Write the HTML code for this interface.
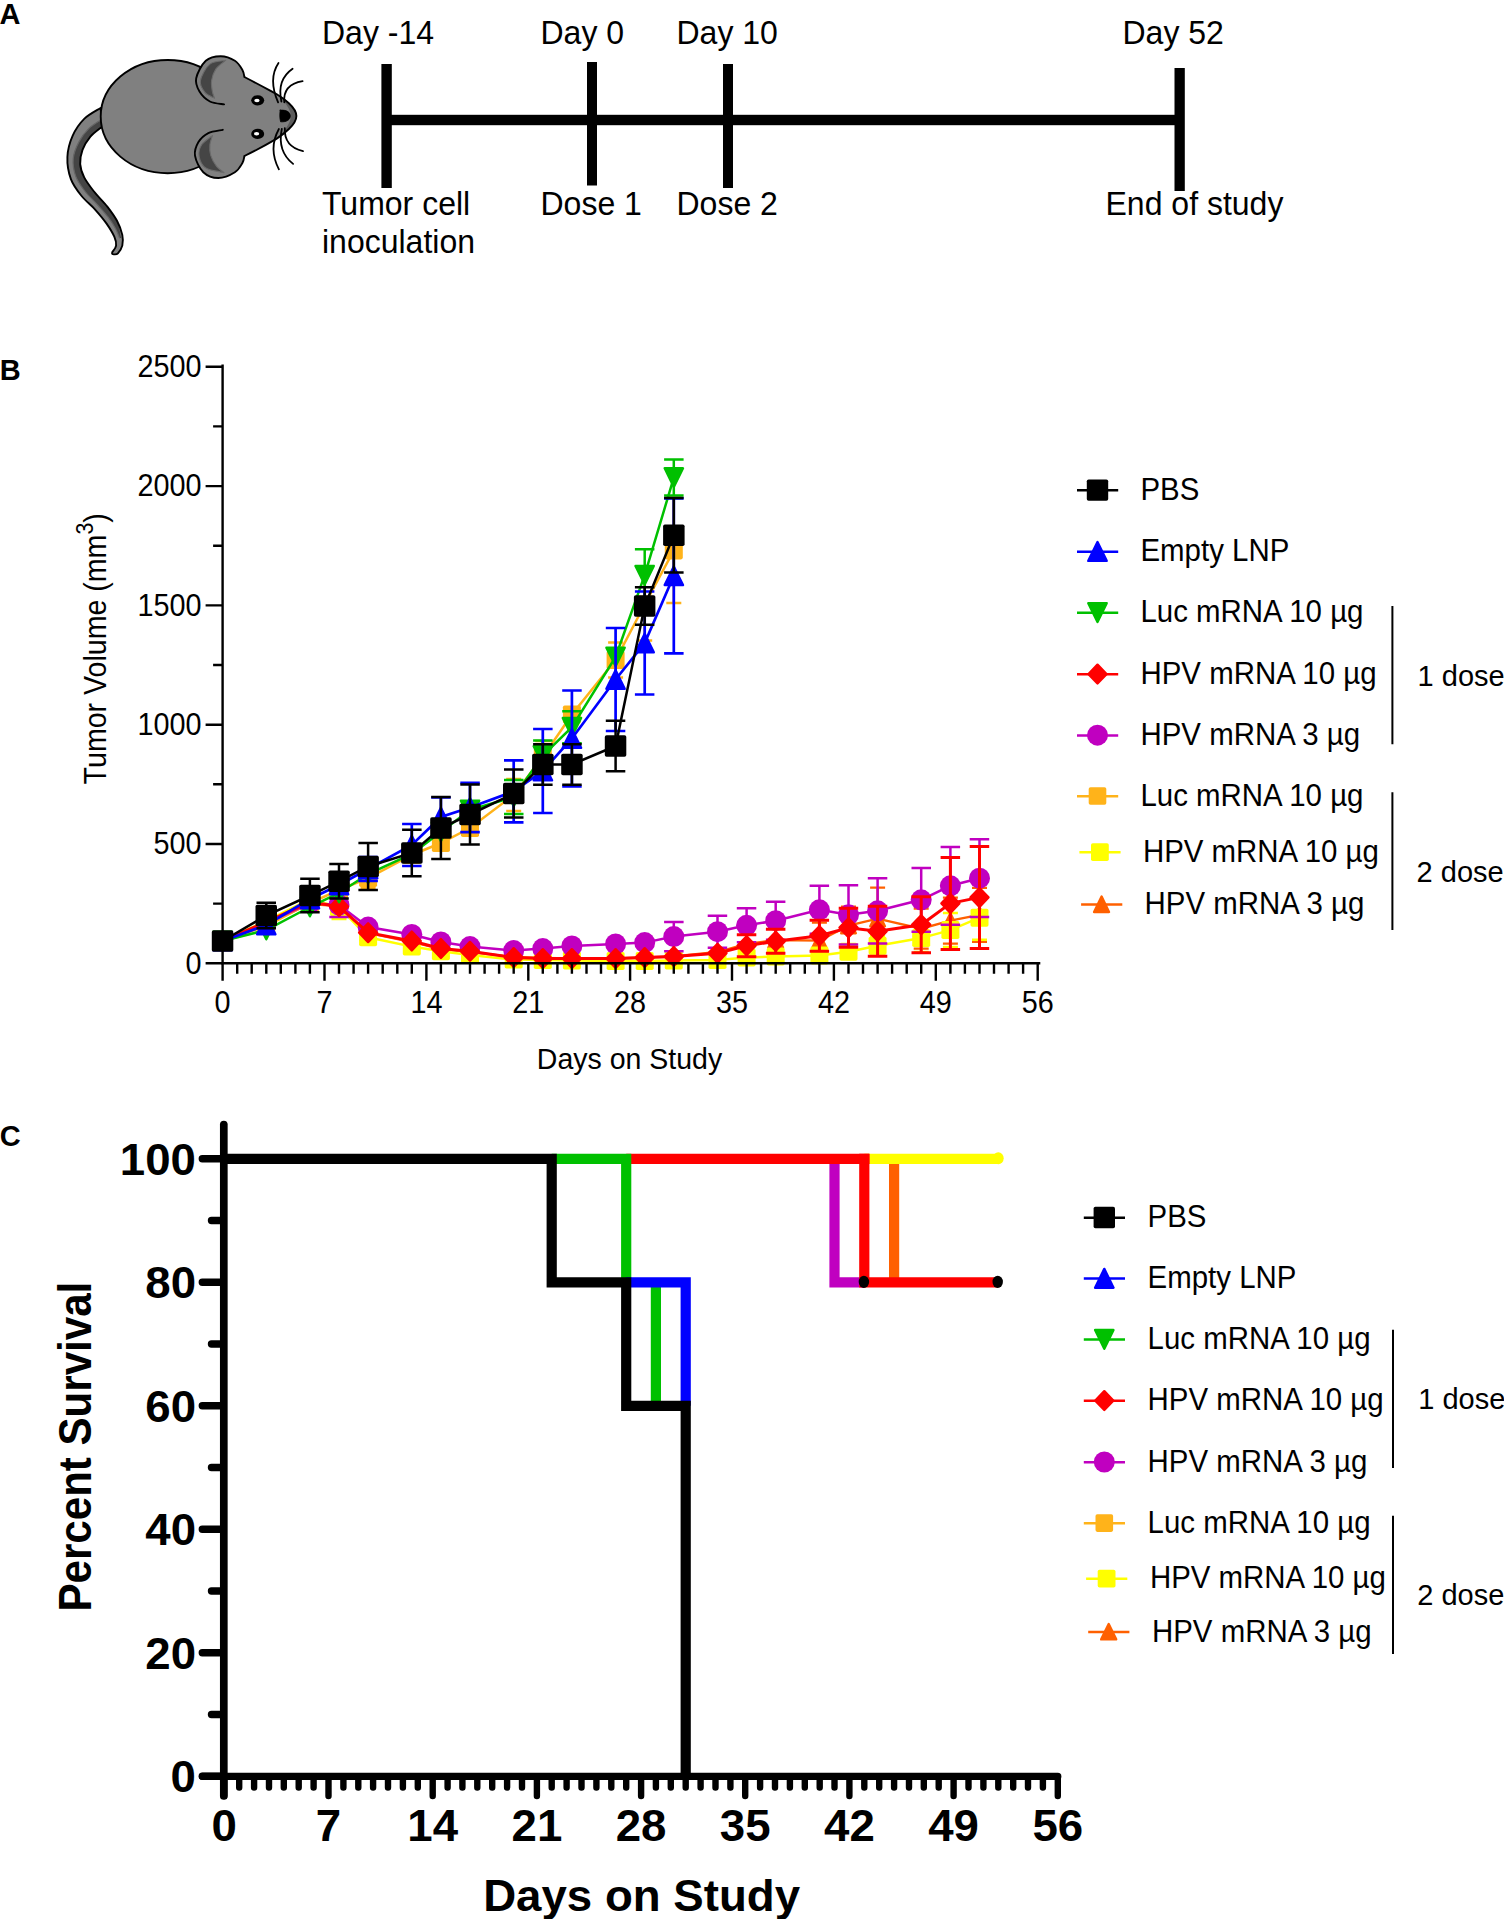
<!DOCTYPE html>
<html><head><meta charset="utf-8"><title>Figure</title>
<style>
html,body{margin:0;padding:0;background:#fff;}
body{width:1504px;height:1919px;overflow:hidden;}
svg{display:block;font-family:'Liberation Sans', Arial, Helvetica, sans-serif;fill:#000;}
</style></head><body>
<svg width="1504" height="1919" viewBox="0 0 1504 1919">
<rect width="1504" height="1919" fill="#fff"/>
<g id="panelA">
<text transform="translate(-0.4 24.0) scale(0.962 1)" font-size="30.16" font-weight="bold">A</text>
<g id="mouse" stroke-linejoin="round" stroke-linecap="round"><path d="M100.6 108.0 C97.9 109.8 88.8 114.3 84.2 118.9 C79.6 123.5 75.5 129.3 72.7 135.7 C69.9 142.0 67.7 149.8 67.4 157.0 C67.1 164.2 68.5 172.6 70.9 179.1 C73.3 185.6 77.6 191.0 81.6 196.0 C85.6 201.0 90.8 204.7 94.9 209.3 C99.0 213.9 103.2 218.8 106.4 223.4 C109.6 228.0 112.7 233.0 114.3 236.7 C115.9 240.4 116.4 243.0 116.1 245.6 C115.8 248.2 112.9 251.1 112.3 252.2 Q111.3 254.6 114.2 254.4 C114.8 254.2 116.6 254.8 117.9 253.3 C119.2 251.8 121.6 248.7 122.3 245.6 C123.0 242.5 123.2 239.0 122.3 234.9 C121.4 230.8 119.5 225.5 117.0 220.8 C114.5 216.1 111.1 211.5 107.3 206.6 C103.5 201.7 97.8 196.4 94.0 191.5 C90.2 186.6 86.5 182.0 84.2 177.4 C81.9 172.8 80.5 168.7 80.2 164.1 C79.9 159.5 80.8 154.5 82.5 149.9 C84.2 145.3 87.2 140.4 90.4 136.6 C93.7 132.8 100.1 128.4 102.0 126.8 Z" fill="#808080" stroke="none"/><path d="M101.0 119.8 C99.0 121.3 92.4 125.0 88.7 128.7 C85.0 132.4 81.5 136.9 78.9 141.9 C76.3 146.9 73.7 153.0 73.2 158.8 C72.7 164.6 73.8 171.1 75.8 176.5 C77.8 181.9 81.5 186.8 85.1 191.5 C88.7 196.2 93.7 200.5 97.5 204.8 C101.3 209.1 105.1 213.2 108.1 217.2 C111.1 221.1 113.6 225.0 115.5 228.5 C117.4 232.0 118.8 236.4 119.5 238.0 L121.2 238 C120.5 235.1 119.3 226.0 117.0 220.8 C114.7 215.6 111.1 211.5 107.3 206.6 C103.5 201.7 97.8 196.4 94.0 191.5 C90.2 186.6 86.5 182.0 84.2 177.4 C81.9 172.8 80.5 168.7 80.2 164.1 C79.9 159.5 80.8 154.5 82.5 149.9 C84.2 145.3 87.2 140.4 90.4 136.6 C93.7 132.8 100.1 128.4 102.0 126.8 Z" fill="#454545" stroke="none"/><path d="M101.0 119.8 C99.0 121.3 92.4 125.0 88.7 128.7 C85.0 132.4 81.5 136.9 78.9 141.9 C76.3 146.9 73.7 153.0 73.2 158.8 C72.7 164.6 73.8 171.1 75.8 176.5 C77.8 181.9 81.5 186.8 85.1 191.5 C88.7 196.2 93.7 200.5 97.5 204.8 C101.3 209.1 105.1 213.2 108.1 217.2 C111.1 221.1 113.6 225.0 115.5 228.5 C117.4 232.0 118.8 236.4 119.5 238.0" fill="none" stroke="#666" stroke-width="1.2"/><path d="M100.6 108.0 C97.9 109.8 88.8 114.3 84.2 118.9 C79.6 123.5 75.5 129.3 72.7 135.7 C69.9 142.0 67.7 149.8 67.4 157.0 C67.1 164.2 68.5 172.6 70.9 179.1 C73.3 185.6 77.6 191.0 81.6 196.0 C85.6 201.0 90.8 204.7 94.9 209.3 C99.0 213.9 103.2 218.8 106.4 223.4 C109.6 228.0 112.7 233.0 114.3 236.7 C115.9 240.4 116.4 243.0 116.1 245.6 C115.8 248.2 112.9 251.1 112.3 252.2 Q111.3 254.6 114.2 254.4 C114.8 254.2 116.6 254.8 117.9 253.3 C119.2 251.8 121.6 248.7 122.3 245.6 C123.0 242.5 123.2 239.0 122.3 234.9 C121.4 230.8 119.5 225.5 117.0 220.8 C114.5 216.1 111.1 211.5 107.3 206.6 C103.5 201.7 97.8 196.4 94.0 191.5 C90.2 186.6 86.5 182.0 84.2 177.4 C81.9 172.8 80.5 168.7 80.2 164.1 C79.9 159.5 80.8 154.5 82.5 149.9 C84.2 145.3 87.2 140.4 90.4 136.6 C93.7 132.8 100.1 128.4 102.0 126.8 Z" fill="none" stroke="#000" stroke-width="1.9"/><ellipse cx="167.7" cy="116.6" rx="67" ry="56.6" fill="#808080" stroke="#000" stroke-width="1.9"/><path d="M222 66 L244.4 77 C258 84 268 89.5 276.4 94 C283 98 286 100.5 288.9 103.2 C294 108 296.4 111.5 296.4 115.9 C296.4 120.5 294 124 288.9 129 C286 131.8 283 134.5 276.4 138.9 C268 143.8 258 149.5 244.4 156 L222 167 Z" fill="#808080" stroke="none"/><path d="M277.5 94.8 C284 98.5 287 101 289.2 103.4 C294 108 296.4 111.5 296.4 115.9 C296.4 120.5 294 124 289.2 128.8 C287 131 284 133.8 277.5 138.2 C284.5 131 290.8 123 290.8 116 C290.8 109 284.5 101.5 277.5 94.8 Z" fill="#5c5c5c" stroke="none"/><path d="M244.4 77 C258 84 268 89.5 276.4 94 C283 98 286 100.5 288.9 103.2 C294 108 296.4 111.5 296.4 115.9 C296.4 120.5 294 124 288.9 129 C286 131.8 283 134.5 276.4 138.9 C268 143.8 258 149.5 244.4 156" fill="none" stroke="#000" stroke-width="1.9"/><path d="M244.4 77.0 C244.1 75.8 244.0 72.6 242.4 69.9 C240.8 67.2 238.5 63.1 234.9 60.8 C231.3 58.5 225.5 56.2 220.7 56.2 C215.8 56.2 209.9 57.1 205.8 60.8 C201.7 64.5 197.2 73.2 196.2 78.3 C195.1 83.4 197.2 87.7 199.5 91.6 C201.8 95.5 205.8 99.4 209.9 101.5 C214.0 103.6 221.7 103.9 224.1 104.4 Z" fill="#808080" stroke="none"/><path d="M225.7 60.4 C223.1 61.0 214.1 60.7 209.9 64.1 C205.7 67.5 201.2 76.0 200.4 80.7 C199.6 85.4 202.6 89.5 204.9 92.4 C207.2 95.3 212.9 97.2 214.5 98.2 C214.2 97.1 212.9 94.5 212.4 91.6 C211.9 88.7 211.0 84.5 211.6 80.7 C212.2 77.0 213.5 72.5 215.8 69.1 C218.2 65.7 224.0 61.8 225.7 60.4 Z" fill="#454545" stroke="#6b6b6b" stroke-width="1.1"/><path d="M244.4 77.0 C244.1 75.8 244.0 72.6 242.4 69.9 C240.8 67.2 238.5 63.1 234.9 60.8 C231.3 58.5 225.5 56.2 220.7 56.2 C215.8 56.2 209.9 57.1 205.8 60.8 C201.7 64.5 197.2 73.2 196.2 78.3 C195.1 83.4 197.2 87.7 199.5 91.6 C201.8 95.5 205.8 99.4 209.9 101.5 C214.0 103.6 221.7 103.9 224.1 104.4" fill="none" stroke="#000" stroke-width="1.9"/><path d="M244.4 156.0 C244.1 157.2 244.0 160.3 242.4 163.0 C240.8 165.7 238.9 169.7 234.9 172.2 C230.9 174.7 223.6 178.0 218.3 178.0 C213.0 178.0 207.2 175.9 203.3 172.2 C199.4 168.5 195.8 160.6 195.0 155.6 C194.2 150.6 196.1 146.1 198.3 142.3 C200.5 138.6 204.2 135.2 208.3 133.1 C212.4 131.0 220.4 130.4 222.8 129.8 Z" fill="#808080" stroke="none"/><path d="M212.4 135.6 C210.6 137.1 203.8 141.3 201.6 144.8 C199.4 148.3 198.4 152.5 199.1 156.4 C199.8 160.3 201.6 165.3 205.8 168.0 C210.0 170.7 221.1 171.8 224.1 172.6 C222.8 171.6 218.8 169.2 216.6 166.4 C214.4 163.6 211.9 159.2 210.8 155.6 C209.7 152.0 209.6 148.1 209.9 144.8 C210.2 141.5 212.0 137.1 212.4 135.6 Z" fill="#454545" stroke="#6b6b6b" stroke-width="1.1"/><path d="M244.4 156.0 C244.1 157.2 244.0 160.3 242.4 163.0 C240.8 165.7 238.9 169.7 234.9 172.2 C230.9 174.7 223.6 178.0 218.3 178.0 C213.0 178.0 207.2 175.9 203.3 172.2 C199.4 168.5 195.8 160.6 195.0 155.6 C194.2 150.6 196.1 146.1 198.3 142.3 C200.5 138.6 204.2 135.2 208.3 133.1 C212.4 131.0 220.4 130.4 222.8 129.8" fill="none" stroke="#000" stroke-width="1.9"/><ellipse cx="257.7" cy="100.3" rx="6.5" ry="5.1" fill="#000"/><ellipse cx="257" cy="100.5" rx="2.6" ry="1.8" fill="#fff"/><ellipse cx="257.7" cy="133.9" rx="6.5" ry="5.1" fill="#000"/><ellipse cx="256.6" cy="133.8" rx="2.6" ry="1.8" fill="#fff"/><path d="M280.2 110.2 C287 109.6 290.3 112.5 290.3 116 C290.3 119.5 287 122.2 280.6 121.8 C279.6 118 279.6 114 280.2 110.2 Z" fill="#000" stroke="#000" stroke-width="0.8"/><g fill="none" stroke="#000" stroke-width="1.8"><path d="M278.1 102.4 Q267.9 78.75 278.5 62.9"/><path d="M281.4 101.5 Q276.6 79.7 292.6 68.7"/><path d="M284.3 102.4 Q282.75 84.6 302.6 81.2"/><path d="M278.9 129 Q268.1 148.65 278.9 169.3"/><path d="M281.8 129 Q277.15 151.35 293.1 163.9"/><path d="M284.8 128.1 Q283.9 146.55 303 151.2"/></g></g>
<g fill="#000">
<rect x="386" y="114.8" width="794" height="10.4"/>
<rect x="381.4" y="64" width="10.4" height="124"/>
<rect x="587" y="62" width="10" height="123.5"/>
<rect x="723" y="64" width="10" height="124"/>
<rect x="1174.5" y="68" width="10.3" height="123"/>
</g>
<text transform="translate(322.0 44.3) scale(0.962 1)" font-size="33.28">Day -14</text>
<text transform="translate(540.5 44.3) scale(0.962 1)" font-size="33.28">Day 0</text>
<text transform="translate(676.5 44.3) scale(0.962 1)" font-size="33.28">Day 10</text>
<text transform="translate(1122.5 44.3) scale(0.962 1)" font-size="33.28">Day 52</text>
<text transform="translate(322.0 214.5) scale(0.962 1)" font-size="33.28">Tumor cell</text>
<text transform="translate(322.0 253.3) scale(0.962 1)" font-size="33.28">inoculation</text>
<text transform="translate(540.5 214.5) scale(0.962 1)" font-size="33.28">Dose 1</text>
<text transform="translate(676.5 214.5) scale(0.962 1)" font-size="33.28">Dose 2</text>
<text transform="translate(1105.5 214.5) scale(0.962 1)" font-size="33.28">End of study</text>
</g>
<g id="panelB">
<text transform="translate(-0.2 379.9) scale(0.962 1)" font-size="30.16" font-weight="bold">B</text>
<g stroke="#ff6000" fill="#ff6000" stroke-width="2.3"><path d="M339.0 896.0V916.0M331.5 896.0H346.5M331.5 916.0H346.5M775.7 928.0V952.0M768.2 928.0H783.2M768.2 952.0H783.2M819.4 922.7V958.7M811.9 922.7H826.9M811.9 958.7H826.9M848.5 906.7V944.7M841.0 906.7H856.0M841.0 944.7H856.0M877.6 887.7V949.7M870.1 887.7H885.1M870.1 949.7H885.1M921.2 908.7V948.7M913.7 908.7H928.7M913.7 948.7H928.7M950.4 897.7V943.7M942.9 897.7H957.9M942.9 943.7H957.9M979.5 887.8V941.8M972.0 887.8H987.0M972.0 941.8H987.0" fill="none"/><polyline fill="none" points="222.6,941.0 266.3,924.0 309.9,904.0 339.0,906.0 368.1,933.0 411.8,942.0 440.9,949.0 470.0,952.0 513.7,957.0 542.8,958.0 571.9,958.5 615.6,958.5 644.7,957.5 673.8,956.5 717.5,952.0 746.6,944.0 775.7,940.0 819.4,940.7 848.5,925.7 877.6,918.7 921.2,928.7 950.4,920.7 979.5,914.8"/><path d="M222.6 933.5L229.9 948.5L215.3 948.5Z" stroke-width="2.4" stroke-linejoin="round"/><path d="M266.3 916.5L273.6 931.5L259.0 931.5Z" stroke-width="2.4" stroke-linejoin="round"/><path d="M309.9 896.5L317.2 911.5L302.6 911.5Z" stroke-width="2.4" stroke-linejoin="round"/><path d="M339.0 898.5L346.3 913.5L331.7 913.5Z" stroke-width="2.4" stroke-linejoin="round"/><path d="M368.1 925.5L375.4 940.5L360.8 940.5Z" stroke-width="2.4" stroke-linejoin="round"/><path d="M411.8 934.5L419.1 949.5L404.5 949.5Z" stroke-width="2.4" stroke-linejoin="round"/><path d="M440.9 941.5L448.2 956.5L433.6 956.5Z" stroke-width="2.4" stroke-linejoin="round"/><path d="M470.0 944.5L477.3 959.5L462.7 959.5Z" stroke-width="2.4" stroke-linejoin="round"/><path d="M513.7 949.5L521.0 964.5L506.4 964.5Z" stroke-width="2.4" stroke-linejoin="round"/><path d="M542.8 950.5L550.1 965.5L535.5 965.5Z" stroke-width="2.4" stroke-linejoin="round"/><path d="M571.9 951.0L579.2 966.0L564.6 966.0Z" stroke-width="2.4" stroke-linejoin="round"/><path d="M615.6 951.0L622.9 966.0L608.3 966.0Z" stroke-width="2.4" stroke-linejoin="round"/><path d="M644.7 950.0L652.0 965.0L637.4 965.0Z" stroke-width="2.4" stroke-linejoin="round"/><path d="M673.8 949.0L681.1 964.0L666.5 964.0Z" stroke-width="2.4" stroke-linejoin="round"/><path d="M717.5 944.5L724.8 959.5L710.2 959.5Z" stroke-width="2.4" stroke-linejoin="round"/><path d="M746.6 936.5L753.9 951.5L739.3 951.5Z" stroke-width="2.4" stroke-linejoin="round"/><path d="M775.7 932.5L783.0 947.5L768.4 947.5Z" stroke-width="2.4" stroke-linejoin="round"/><path d="M819.4 933.2L826.7 948.2L812.1 948.2Z" stroke-width="2.4" stroke-linejoin="round"/><path d="M848.5 918.2L855.8 933.2L841.2 933.2Z" stroke-width="2.4" stroke-linejoin="round"/><path d="M877.6 911.2L884.9 926.2L870.3 926.2Z" stroke-width="2.4" stroke-linejoin="round"/><path d="M921.2 921.2L928.5 936.2L913.9 936.2Z" stroke-width="2.4" stroke-linejoin="round"/><path d="M950.4 913.2L957.6 928.2L943.1 928.2Z" stroke-width="2.4" stroke-linejoin="round"/><path d="M979.5 907.3L986.8 922.3L972.2 922.3Z" stroke-width="2.4" stroke-linejoin="round"/></g>
<g stroke="#ffff00" fill="#ffff00" stroke-width="2.5"><path d="M309.9 889.0V909.0M302.4 889.0H317.4M302.4 909.0H317.4M339.0 895.0V919.0M331.5 895.0H346.5M331.5 919.0H346.5M877.6 935.7V955.7M870.1 935.7H885.1M870.1 955.7H885.1M921.2 924.1V952.1M913.7 924.1H928.7M913.7 952.1H928.7M950.4 913.1V947.1M942.9 913.1H957.9M942.9 947.1H957.9M979.5 895.7V939.7M972.0 895.7H987.0M972.0 939.7H987.0" fill="none"/><polyline fill="none" points="222.6,941.0 266.3,921.0 309.9,899.0 339.0,907.0 368.1,937.3 411.8,946.6 440.9,951.3 470.0,955.0 513.7,959.6 542.8,960.0 571.9,960.5 615.6,961.0 644.7,961.0 673.8,960.5 717.5,960.0 746.6,957.6 775.7,956.6 819.4,955.6 848.5,951.7 877.6,945.7 921.2,938.1 950.4,930.1 979.5,917.7"/><rect x="213.6" y="932.0" width="18" height="18" rx="1.8" stroke="none"/><rect x="257.3" y="912.0" width="18" height="18" rx="1.8" stroke="none"/><rect x="300.9" y="890.0" width="18" height="18" rx="1.8" stroke="none"/><rect x="330.0" y="898.0" width="18" height="18" rx="1.8" stroke="none"/><rect x="359.1" y="928.3" width="18" height="18" rx="1.8" stroke="none"/><rect x="402.8" y="937.6" width="18" height="18" rx="1.8" stroke="none"/><rect x="431.9" y="942.3" width="18" height="18" rx="1.8" stroke="none"/><rect x="461.0" y="946.0" width="18" height="18" rx="1.8" stroke="none"/><rect x="504.7" y="950.6" width="18" height="18" rx="1.8" stroke="none"/><rect x="533.8" y="951.0" width="18" height="18" rx="1.8" stroke="none"/><rect x="562.9" y="951.5" width="18" height="18" rx="1.8" stroke="none"/><rect x="606.6" y="952.0" width="18" height="18" rx="1.8" stroke="none"/><rect x="635.7" y="952.0" width="18" height="18" rx="1.8" stroke="none"/><rect x="664.8" y="951.5" width="18" height="18" rx="1.8" stroke="none"/><rect x="708.5" y="951.0" width="18" height="18" rx="1.8" stroke="none"/><rect x="737.6" y="948.6" width="18" height="18" rx="1.8" stroke="none"/><rect x="766.7" y="947.6" width="18" height="18" rx="1.8" stroke="none"/><rect x="810.4" y="946.6" width="18" height="18" rx="1.8" stroke="none"/><rect x="839.5" y="942.7" width="18" height="18" rx="1.8" stroke="none"/><rect x="868.6" y="936.7" width="18" height="18" rx="1.8" stroke="none"/><rect x="912.2" y="929.1" width="18" height="18" rx="1.8" stroke="none"/><rect x="941.4" y="921.1" width="18" height="18" rx="1.8" stroke="none"/><rect x="970.5" y="908.7" width="18" height="18" rx="1.8" stroke="none"/></g>
<g stroke="#ffb31a" fill="#ffb31a" stroke-width="2.5"><path d="M368.1 868.0V888.0M360.6 868.0H375.6M360.6 888.0H375.6M513.7 779.0V811.0M506.2 779.0H521.2M506.2 811.0H521.2M542.8 741.0V773.0M535.3 741.0H550.3M535.3 773.0H550.3M615.6 642.4V677.6M608.1 642.4H623.1M608.1 677.6H623.1M644.7 568.5V640.5M637.2 568.5H652.2M637.2 640.5H652.2M673.8 497.7V603.1M666.3 497.7H681.3M666.3 603.1H681.3" fill="none"/><polyline fill="none" points="222.6,941.0 266.3,926.0 309.9,903.0 339.0,890.0 368.1,878.0 411.8,855.0 440.9,843.0 470.0,828.0 513.7,795.0 542.8,757.0 571.9,714.5 615.6,660.0 644.7,604.5 673.8,550.4"/><rect x="213.6" y="932.0" width="18" height="18" rx="1.8" stroke="none"/><rect x="257.3" y="917.0" width="18" height="18" rx="1.8" stroke="none"/><rect x="300.9" y="894.0" width="18" height="18" rx="1.8" stroke="none"/><rect x="330.0" y="881.0" width="18" height="18" rx="1.8" stroke="none"/><rect x="359.1" y="869.0" width="18" height="18" rx="1.8" stroke="none"/><rect x="402.8" y="846.0" width="18" height="18" rx="1.8" stroke="none"/><rect x="431.9" y="834.0" width="18" height="18" rx="1.8" stroke="none"/><rect x="461.0" y="819.0" width="18" height="18" rx="1.8" stroke="none"/><rect x="504.7" y="786.0" width="18" height="18" rx="1.8" stroke="none"/><rect x="533.8" y="748.0" width="18" height="18" rx="1.8" stroke="none"/><rect x="562.9" y="705.5" width="18" height="18" rx="1.8" stroke="none"/><rect x="606.6" y="651.0" width="18" height="18" rx="1.8" stroke="none"/><rect x="635.7" y="595.5" width="18" height="18" rx="1.8" stroke="none"/><rect x="664.8" y="541.4" width="18" height="18" rx="1.8" stroke="none"/></g>
<g stroke="#c000c0" fill="#c000c0" stroke-width="2.5"><path d="M339.0 893.0V917.0M329.3 893.0H348.8M329.3 917.0H348.8M673.8 922.0V951.2M664.1 922.0H683.6M664.1 951.2H683.6M717.5 915.7V947.7M707.7 915.7H727.2M707.7 947.7H727.2M746.6 908.3V942.3M736.8 908.3H756.3M736.8 942.3H756.3M775.7 901.7V939.7M765.9 901.7H785.4M765.9 939.7H785.4M819.4 885.8V933.8M809.6 885.8H829.1M809.6 933.8H829.1M848.5 885.2V944.4M838.7 885.2H858.2M838.7 944.4H858.2M877.6 878.2V943.4M867.8 878.2H887.3M867.8 943.4H887.3M921.2 867.9V931.7M911.5 867.9H931.0M911.5 931.7H931.0M950.4 846.9V924.7M940.6 846.9H960.1M940.6 924.7H960.1M979.5 839.3V917.1M969.7 839.3H989.2M969.7 917.1H989.2" fill="none"/><polyline fill="none" points="222.6,941.0 266.3,923.0 309.9,903.0 339.0,905.0 368.1,927.1 411.8,934.5 440.9,942.0 470.0,946.6 513.7,950.6 542.8,948.6 571.9,946.0 615.6,944.0 644.7,942.6 673.8,936.6 717.5,931.7 746.6,925.3 775.7,920.7 819.4,909.8 848.5,914.8 877.6,910.8 921.2,899.8 950.4,885.8 979.5,878.2"/><circle cx="222.6" cy="941.0" r="10.5" stroke="none"/><circle cx="266.3" cy="923.0" r="10.5" stroke="none"/><circle cx="309.9" cy="903.0" r="10.5" stroke="none"/><circle cx="339.0" cy="905.0" r="10.5" stroke="none"/><circle cx="368.1" cy="927.1" r="10.5" stroke="none"/><circle cx="411.8" cy="934.5" r="10.5" stroke="none"/><circle cx="440.9" cy="942.0" r="10.5" stroke="none"/><circle cx="470.0" cy="946.6" r="10.5" stroke="none"/><circle cx="513.7" cy="950.6" r="10.5" stroke="none"/><circle cx="542.8" cy="948.6" r="10.5" stroke="none"/><circle cx="571.9" cy="946.0" r="10.5" stroke="none"/><circle cx="615.6" cy="944.0" r="10.5" stroke="none"/><circle cx="644.7" cy="942.6" r="10.5" stroke="none"/><circle cx="673.8" cy="936.6" r="10.5" stroke="none"/><circle cx="717.5" cy="931.7" r="10.5" stroke="none"/><circle cx="746.6" cy="925.3" r="10.5" stroke="none"/><circle cx="775.7" cy="920.7" r="10.5" stroke="none"/><circle cx="819.4" cy="909.8" r="10.5" stroke="none"/><circle cx="848.5" cy="914.8" r="10.5" stroke="none"/><circle cx="877.6" cy="910.8" r="10.5" stroke="none"/><circle cx="921.2" cy="899.8" r="10.5" stroke="none"/><circle cx="950.4" cy="885.8" r="10.5" stroke="none"/><circle cx="979.5" cy="878.2" r="10.5" stroke="none"/></g>
<g stroke="#ff0000" fill="#ff0000" stroke-width="3.0"><path d="M746.6 934.7V956.7M736.8 934.7H756.3M736.8 956.7H756.3M775.7 929.3V953.3M765.9 929.3H785.4M765.9 953.3H785.4M819.4 920.2V951.2M809.6 920.2H829.1M809.6 951.2H829.1M848.5 908.2V947.2M838.7 908.2H858.2M838.7 947.2H858.2M877.6 906.3V956.3M867.8 906.3H887.3M867.8 956.3H887.3M921.2 896.7V952.7M911.5 896.7H931.0M911.5 952.7H931.0M950.4 857.4V949.4M940.6 857.4H960.1M940.6 949.4H960.1M979.5 846.4V948.4M969.7 846.4H989.2M969.7 948.4H989.2" fill="none"/><polyline fill="none" points="222.6,941.0 266.3,922.0 309.9,902.0 339.0,906.6 368.1,932.7 411.8,941.0 440.9,948.5 470.0,951.3 513.7,957.6 542.8,958.6 571.9,958.6 615.6,958.6 644.7,957.6 673.8,956.6 717.5,953.2 746.6,945.7 775.7,941.3 819.4,935.7 848.5,927.7 877.6,931.3 921.2,924.7 950.4,903.4 979.5,897.4"/><path d="M222.6 931.6L231.6 941.0L222.6 950.4L213.6 941.0Z" stroke-width="2.4" stroke-linejoin="round"/><path d="M266.3 912.6L275.3 922.0L266.3 931.4L257.3 922.0Z" stroke-width="2.4" stroke-linejoin="round"/><path d="M309.9 892.6L318.9 902.0L309.9 911.4L300.9 902.0Z" stroke-width="2.4" stroke-linejoin="round"/><path d="M339.0 897.2L348.0 906.6L339.0 916.0L330.0 906.6Z" stroke-width="2.4" stroke-linejoin="round"/><path d="M368.1 923.3L377.1 932.7L368.1 942.1L359.1 932.7Z" stroke-width="2.4" stroke-linejoin="round"/><path d="M411.8 931.6L420.8 941.0L411.8 950.4L402.8 941.0Z" stroke-width="2.4" stroke-linejoin="round"/><path d="M440.9 939.1L449.9 948.5L440.9 957.9L431.9 948.5Z" stroke-width="2.4" stroke-linejoin="round"/><path d="M470.0 941.9L479.0 951.3L470.0 960.7L461.0 951.3Z" stroke-width="2.4" stroke-linejoin="round"/><path d="M513.7 948.2L522.7 957.6L513.7 967.0L504.7 957.6Z" stroke-width="2.4" stroke-linejoin="round"/><path d="M542.8 949.2L551.8 958.6L542.8 968.0L533.8 958.6Z" stroke-width="2.4" stroke-linejoin="round"/><path d="M571.9 949.2L580.9 958.6L571.9 968.0L562.9 958.6Z" stroke-width="2.4" stroke-linejoin="round"/><path d="M615.6 949.2L624.6 958.6L615.6 968.0L606.6 958.6Z" stroke-width="2.4" stroke-linejoin="round"/><path d="M644.7 948.2L653.7 957.6L644.7 967.0L635.7 957.6Z" stroke-width="2.4" stroke-linejoin="round"/><path d="M673.8 947.2L682.8 956.6L673.8 966.0L664.8 956.6Z" stroke-width="2.4" stroke-linejoin="round"/><path d="M717.5 943.8L726.5 953.2L717.5 962.6L708.5 953.2Z" stroke-width="2.4" stroke-linejoin="round"/><path d="M746.6 936.3L755.6 945.7L746.6 955.1L737.6 945.7Z" stroke-width="2.4" stroke-linejoin="round"/><path d="M775.7 931.9L784.7 941.3L775.7 950.7L766.7 941.3Z" stroke-width="2.4" stroke-linejoin="round"/><path d="M819.4 926.3L828.4 935.7L819.4 945.1L810.4 935.7Z" stroke-width="2.4" stroke-linejoin="round"/><path d="M848.5 918.3L857.5 927.7L848.5 937.1L839.5 927.7Z" stroke-width="2.4" stroke-linejoin="round"/><path d="M877.6 921.9L886.6 931.3L877.6 940.7L868.6 931.3Z" stroke-width="2.4" stroke-linejoin="round"/><path d="M921.2 915.3L930.2 924.7L921.2 934.1L912.2 924.7Z" stroke-width="2.4" stroke-linejoin="round"/><path d="M950.4 894.0L959.4 903.4L950.4 912.8L941.4 903.4Z" stroke-width="2.4" stroke-linejoin="round"/><path d="M979.5 888.0L988.5 897.4L979.5 906.8L970.5 897.4Z" stroke-width="2.4" stroke-linejoin="round"/></g>
<g stroke="#00c000" fill="#00c000" stroke-width="2.5"><path d="M513.7 780.0V814.0M504.0 780.0H523.5M504.0 814.0H523.5M542.8 740.6V770.6M533.1 740.6H552.6M533.1 770.6H552.6M571.9 711.2V743.2M562.2 711.2H581.7M562.2 743.2H581.7M644.7 549.2V601.2M634.9 549.2H654.4M634.9 601.2H654.4M673.8 459.6V495.6M664.1 459.6H683.6M664.1 495.6H683.6" fill="none"/><polyline fill="none" points="222.6,941.0 266.3,930.0 309.9,907.0 339.0,893.0 368.1,874.0 411.8,854.0 440.9,832.0 470.0,810.0 513.7,797.0 542.8,755.6 571.9,727.2 615.6,657.0 644.7,575.2 673.8,477.6"/><path d="M222.6 950.3L231.8 931.7L213.4 931.7Z" stroke-width="2.4" stroke-linejoin="round"/><path d="M266.3 939.3L275.4 920.7L257.1 920.7Z" stroke-width="2.4" stroke-linejoin="round"/><path d="M309.9 916.3L319.1 897.7L300.8 897.7Z" stroke-width="2.4" stroke-linejoin="round"/><path d="M339.0 902.3L348.2 883.7L329.9 883.7Z" stroke-width="2.4" stroke-linejoin="round"/><path d="M368.1 883.3L377.3 864.7L359.0 864.7Z" stroke-width="2.4" stroke-linejoin="round"/><path d="M411.8 863.3L421.0 844.7L402.7 844.7Z" stroke-width="2.4" stroke-linejoin="round"/><path d="M440.9 841.3L450.1 822.7L431.8 822.7Z" stroke-width="2.4" stroke-linejoin="round"/><path d="M470.0 819.3L479.2 800.7L460.9 800.7Z" stroke-width="2.4" stroke-linejoin="round"/><path d="M513.7 806.3L522.9 787.7L504.6 787.7Z" stroke-width="2.4" stroke-linejoin="round"/><path d="M542.8 764.9L552.0 746.3L533.7 746.3Z" stroke-width="2.4" stroke-linejoin="round"/><path d="M571.9 736.5L581.1 717.9L562.8 717.9Z" stroke-width="2.4" stroke-linejoin="round"/><path d="M615.6 666.3L624.7 647.7L606.4 647.7Z" stroke-width="2.4" stroke-linejoin="round"/><path d="M644.7 584.5L653.8 565.9L635.5 565.9Z" stroke-width="2.4" stroke-linejoin="round"/><path d="M673.8 486.9L683.0 468.3L664.7 468.3Z" stroke-width="2.4" stroke-linejoin="round"/></g>
<g stroke="#0000ff" fill="#0000ff" stroke-width="2.7"><path d="M368.1 857.0V881.0M358.4 857.0H377.9M358.4 881.0H377.9M411.8 824.0V866.0M402.1 824.0H421.6M402.1 866.0H421.6M440.9 797.5V836.5M431.2 797.5H450.7M431.2 836.5H450.7M470.0 782.8V832.2M460.3 782.8H479.8M460.3 832.2H479.8M513.7 760.4V822.4M504.0 760.4H523.5M504.0 822.4H523.5M542.8 729.0V813.0M533.1 729.0H552.6M533.1 813.0H552.6M571.9 690.5V786.5M562.2 690.5H581.7M562.2 786.5H581.7M615.6 628.0V731.0M605.8 628.0H625.3M605.8 731.0H625.3M644.7 591.5V694.5M634.9 591.5H654.4M634.9 694.5H654.4M673.8 498.3V653.3M664.1 498.3H683.6M664.1 653.3H683.6" fill="none"/><polyline fill="none" points="222.6,941.0 266.3,925.0 309.9,899.0 339.0,885.0 368.1,869.0 411.8,845.0 440.9,817.0 470.0,807.5 513.7,791.4 542.8,771.0 571.9,738.5 615.6,679.5 644.7,643.0 673.8,575.8"/><path d="M222.6 931.7L231.8 950.3L213.4 950.3Z" stroke-width="2.4" stroke-linejoin="round"/><path d="M266.3 915.7L275.4 934.3L257.1 934.3Z" stroke-width="2.4" stroke-linejoin="round"/><path d="M309.9 889.7L319.1 908.3L300.8 908.3Z" stroke-width="2.4" stroke-linejoin="round"/><path d="M339.0 875.7L348.2 894.3L329.9 894.3Z" stroke-width="2.4" stroke-linejoin="round"/><path d="M368.1 859.7L377.3 878.3L359.0 878.3Z" stroke-width="2.4" stroke-linejoin="round"/><path d="M411.8 835.7L421.0 854.3L402.7 854.3Z" stroke-width="2.4" stroke-linejoin="round"/><path d="M440.9 807.7L450.1 826.3L431.8 826.3Z" stroke-width="2.4" stroke-linejoin="round"/><path d="M470.0 798.2L479.2 816.8L460.9 816.8Z" stroke-width="2.4" stroke-linejoin="round"/><path d="M513.7 782.1L522.9 800.7L504.6 800.7Z" stroke-width="2.4" stroke-linejoin="round"/><path d="M542.8 761.7L552.0 780.3L533.7 780.3Z" stroke-width="2.4" stroke-linejoin="round"/><path d="M571.9 729.2L581.1 747.8L562.8 747.8Z" stroke-width="2.4" stroke-linejoin="round"/><path d="M615.6 670.2L624.7 688.8L606.4 688.8Z" stroke-width="2.4" stroke-linejoin="round"/><path d="M644.7 633.7L653.8 652.3L635.5 652.3Z" stroke-width="2.4" stroke-linejoin="round"/><path d="M673.8 566.5L683.0 585.1L664.7 585.1Z" stroke-width="2.4" stroke-linejoin="round"/></g>
<g stroke="#000" fill="#000" stroke-width="2.5"><path d="M266.3 902.8V928.2M256.5 902.8H276.0M256.5 928.2H276.0M309.9 878.8V912.2M300.2 878.8H319.7M300.2 912.2H319.7M339.0 864.0V898.6M329.3 864.0H348.8M329.3 898.6H348.8M368.1 843.0V890.0M358.4 843.0H377.9M358.4 890.0H377.9M411.8 829.7V876.3M402.1 829.7H421.6M402.1 876.3H421.6M440.9 797.0V859.0M431.2 797.0H450.7M431.2 859.0H450.7M470.0 784.5V844.5M460.3 784.5H479.8M460.3 844.5H479.8M513.7 769.5V817.5M504.0 769.5H523.5M504.0 817.5H523.5M542.8 744.2V784.8M533.1 744.2H552.6M533.1 784.8H552.6M571.9 744.3V784.7M562.2 744.3H581.7M562.2 784.7H581.7M615.6 720.7V771.3M605.8 720.7H625.3M605.8 771.3H625.3M644.7 587.3V624.7M634.9 587.3H654.4M634.9 624.7H654.4M673.8 498.0V572.4M664.1 498.0H683.6M664.1 572.4H683.6" fill="none"/><polyline fill="none" points="222.6,941.0 266.3,915.5 309.9,895.5 339.0,881.3 368.1,866.5 411.8,853.0 440.9,828.0 470.0,814.5 513.7,793.5 542.8,764.5 571.9,764.5 615.6,746.0 644.7,606.0 673.8,535.2"/><rect x="211.8" y="930.2" width="21.5" height="21.5" rx="1.8" stroke="none"/><rect x="255.5" y="904.8" width="21.5" height="21.5" rx="1.8" stroke="none"/><rect x="299.2" y="884.8" width="21.5" height="21.5" rx="1.8" stroke="none"/><rect x="328.3" y="870.5" width="21.5" height="21.5" rx="1.8" stroke="none"/><rect x="357.4" y="855.8" width="21.5" height="21.5" rx="1.8" stroke="none"/><rect x="401.1" y="842.2" width="21.5" height="21.5" rx="1.8" stroke="none"/><rect x="430.2" y="817.2" width="21.5" height="21.5" rx="1.8" stroke="none"/><rect x="459.3" y="803.8" width="21.5" height="21.5" rx="1.8" stroke="none"/><rect x="503.0" y="782.8" width="21.5" height="21.5" rx="1.8" stroke="none"/><rect x="532.1" y="753.8" width="21.5" height="21.5" rx="1.8" stroke="none"/><rect x="561.2" y="753.8" width="21.5" height="21.5" rx="1.8" stroke="none"/><rect x="604.8" y="735.2" width="21.5" height="21.5" rx="1.8" stroke="none"/><rect x="633.9" y="595.2" width="21.5" height="21.5" rx="1.8" stroke="none"/><rect x="663.1" y="524.5" width="21.5" height="21.5" rx="1.8" stroke="none"/></g>
<g stroke="#000" stroke-width="2.4" fill="none">
<path d="M222.6 364.5V964.5M221.4 963.3H1040.3"/>
<path d="M205.6 963.3H222.6M213.1 903.6H222.6M205.6 844.0H222.6M213.1 784.3H222.6M205.6 724.7H222.6M213.1 665.0H222.6M205.6 605.4H222.6M213.1 545.8H222.6M205.6 486.1H222.6M213.1 426.4H222.6M205.6 366.8H222.6M222.6 963.3V980.8M237.2 963.3V973.8M251.7 963.3V973.8M266.3 963.3V973.8M280.8 963.3V973.8M295.4 963.3V973.8M309.9 963.3V973.8M324.5 963.3V980.8M339.0 963.3V973.8M353.6 963.3V973.8M368.1 963.3V973.8M382.7 963.3V973.8M397.3 963.3V973.8M411.8 963.3V973.8M426.4 963.3V980.8M440.9 963.3V973.8M455.5 963.3V973.8M470.0 963.3V973.8M484.6 963.3V973.8M499.1 963.3V973.8M513.7 963.3V973.8M528.3 963.3V980.8M542.8 963.3V973.8M557.4 963.3V973.8M571.9 963.3V973.8M586.5 963.3V973.8M601.0 963.3V973.8M615.6 963.3V973.8M630.1 963.3V980.8M644.7 963.3V973.8M659.2 963.3V973.8M673.8 963.3V973.8M688.4 963.3V973.8M702.9 963.3V973.8M717.5 963.3V973.8M732.0 963.3V980.8M746.6 963.3V973.8M761.1 963.3V973.8M775.7 963.3V973.8M790.2 963.3V973.8M804.8 963.3V973.8M819.4 963.3V973.8M833.9 963.3V980.8M848.5 963.3V973.8M863.0 963.3V973.8M877.6 963.3V973.8M892.1 963.3V973.8M906.7 963.3V973.8M921.2 963.3V973.8M935.8 963.3V980.8M950.4 963.3V973.8M964.9 963.3V973.8M979.5 963.3V973.8M994.0 963.3V973.8M1008.6 963.3V973.8M1023.1 963.3V973.8M1037.7 963.3V980.8"/>
</g>
<text transform="translate(201.5 973.6) scale(0.962 1.05)" font-size="29.95" text-anchor="end">0</text>
<text transform="translate(201.5 854.3) scale(0.962 1.05)" font-size="29.95" text-anchor="end">500</text>
<text transform="translate(201.5 735.0) scale(0.962 1.05)" font-size="29.95" text-anchor="end">1000</text>
<text transform="translate(201.5 615.7) scale(0.962 1.05)" font-size="29.95" text-anchor="end">1500</text>
<text transform="translate(201.5 496.4) scale(0.962 1.05)" font-size="29.95" text-anchor="end">2000</text>
<text transform="translate(201.5 377.1) scale(0.962 1.05)" font-size="29.95" text-anchor="end">2500</text>
<text transform="translate(222.6 1012.9) scale(0.962 1.05)" font-size="29.95" text-anchor="middle">0</text>
<text transform="translate(324.5 1012.9) scale(0.962 1.05)" font-size="29.95" text-anchor="middle">7</text>
<text transform="translate(426.4 1012.9) scale(0.962 1.05)" font-size="29.95" text-anchor="middle">14</text>
<text transform="translate(528.3 1012.9) scale(0.962 1.05)" font-size="29.95" text-anchor="middle">21</text>
<text transform="translate(630.1 1012.9) scale(0.962 1.05)" font-size="29.95" text-anchor="middle">28</text>
<text transform="translate(732.0 1012.9) scale(0.962 1.05)" font-size="29.95" text-anchor="middle">35</text>
<text transform="translate(833.9 1012.9) scale(0.962 1.05)" font-size="29.95" text-anchor="middle">42</text>
<text transform="translate(935.8 1012.9) scale(0.962 1.05)" font-size="29.95" text-anchor="middle">49</text>
<text transform="translate(1037.7 1012.9) scale(0.962 1.05)" font-size="29.95" text-anchor="middle">56</text>
<text transform="translate(629.5 1068.5) scale(0.962 1)" font-size="29.64" text-anchor="middle">Days on Study</text>
<text transform="translate(105.7 648.8) rotate(-90) scale(0.969 1.05)" font-size="29.5" text-anchor="middle">Tumor Volume (mm<tspan dy="-12.3" font-size="22">3</tspan><tspan dy="12.3">)</tspan></text>
<g stroke="#000" fill="#000" stroke-width="2.5"><path d="M1077.0 490.3H1118.2" fill="none"/><rect x="1086.8" y="479.4" width="21.4" height="21.4" rx="1.8" stroke="none"/></g>
<text transform="translate(1140.5 499.9) scale(0.962 1)" font-size="30.58">PBS</text>
<g stroke="#0000ff" fill="#0000ff" stroke-width="2.5"><path d="M1077.0 551.7H1118.2" fill="none"/><path d="M1097.5 542.1L1106.7 560.9L1088.3 560.9Z" stroke-width="2.4" stroke-linejoin="round"/></g>
<text transform="translate(1140.5 561.3) scale(0.962 1)" font-size="30.58">Empty LNP</text>
<g stroke="#00c000" fill="#00c000" stroke-width="2.5"><path d="M1077.0 612.8H1118.2" fill="none"/><path d="M1097.5 622.0L1106.7 603.2L1088.3 603.2Z" stroke-width="2.4" stroke-linejoin="round"/></g>
<text transform="translate(1140.5 622.4) scale(0.962 1)" font-size="30.58">Luc mRNA 10 µg</text>
<g stroke="#ff0000" fill="#ff0000" stroke-width="2.5"><path d="M1077.0 674.3H1118.2" fill="none"/><path d="M1097.5 664.7L1106.5 674.1L1097.5 683.5L1088.5 674.1Z" stroke-width="2.4" stroke-linejoin="round"/></g>
<text transform="translate(1140.5 683.9) scale(0.962 1)" font-size="30.58">HPV mRNA 10 µg</text>
<g stroke="#c000c0" fill="#c000c0" stroke-width="2.5"><path d="M1077.0 735.4H1118.2" fill="none"/><circle cx="1097.5" cy="735.2" r="10.5" stroke="none"/></g>
<text transform="translate(1140.5 745.0) scale(0.962 1)" font-size="30.58">HPV mRNA 3 µg</text>
<g stroke="#ffb31a" fill="#ffb31a" stroke-width="2.5"><path d="M1077.0 796.2H1118.2" fill="none"/><rect x="1088.7" y="787.2" width="17.6" height="17.6" rx="1.8" stroke="none"/></g>
<text transform="translate(1140.5 805.8) scale(0.962 1)" font-size="30.58">Luc mRNA 10 µg</text>
<g stroke="#ffff00" fill="#ffff00" stroke-width="2.5"><path d="M1079.4 852.3H1120.6" fill="none"/><rect x="1091.0" y="843.2" width="17.8" height="17.8" rx="1.8" stroke="none"/></g>
<text transform="translate(1142.9 861.9) scale(0.962 1)" font-size="30.58">HPV mRNA 10 µg</text>
<g stroke="#ff6000" fill="#ff6000" stroke-width="2.5"><path d="M1081.1 904.5H1122.3" fill="none"/><path d="M1101.6 896.6L1109.0 912.0L1094.1 912.0Z" stroke-width="2.4" stroke-linejoin="round"/></g>
<text transform="translate(1144.6 914.1) scale(0.962 1)" font-size="30.58">HPV mRNA 3 µg</text>
<path d="M1392.4 606.1V744.3M1392.4 792.2V930" stroke="#000" stroke-width="2" fill="none"/>
<text transform="translate(1417.6 685.9) scale(0.962 1)" font-size="30.16">1 dose</text>
<text transform="translate(1416.6 881.6) scale(0.962 1)" font-size="30.16">2 dose</text>
</g>
<g id="panelC">
<text transform="translate(-0.2 1146.4) scale(0.962 1)" font-size="30.16" font-weight="bold">C</text>
<polyline fill="none" stroke="#ff6000" stroke-width="10.2" stroke-linejoin="miter" stroke-linecap="butt" points="894.1,1158.8 894.1,1282.3"/>
<polyline fill="none" stroke="#ffff00" stroke-width="10.2" stroke-linejoin="miter" stroke-linecap="butt" points="864.3,1158.8 998.3,1158.8"/>
<ellipse cx="998.3" cy="1158.2" rx="5.4" ry="6" fill="#ffff00"/>
<polyline fill="none" stroke="#c000c0" stroke-width="10.2" stroke-linejoin="miter" stroke-linecap="butt" points="834.5,1158.8 834.5,1282.3 864.3,1282.3"/>
<polyline fill="none" stroke="#ff0000" stroke-width="10.2" stroke-linejoin="miter" stroke-linecap="butt" points="626.2,1158.8 869.4,1158.8"/>
<polyline fill="none" stroke="#ff0000" stroke-width="10.2" stroke-linejoin="miter" stroke-linecap="butt" points="864.3,1153.7 864.3,1282.3 998.3,1282.3"/>
<polyline fill="none" stroke="#00c000" stroke-width="10.2" stroke-linejoin="miter" stroke-linecap="butt" points="551.7,1158.8 626.2,1158.8 626.2,1282.3"/>
<polyline fill="none" stroke="#00c000" stroke-width="10.2" stroke-linejoin="miter" stroke-linecap="butt" points="655.9,1282.3 655.9,1405.8"/>
<polyline fill="none" stroke="#0000ff" stroke-width="10.2" stroke-linejoin="miter" stroke-linecap="butt" points="626.2,1282.3 685.7,1282.3 685.7,1405.8"/>
<polyline fill="none" stroke="#000" stroke-width="10.2" stroke-linejoin="miter" stroke-linecap="butt" points="224.3,1158.8 551.7,1158.8 551.7,1282.3 626.2,1282.3 626.2,1405.8 685.7,1405.8 685.7,1776.2"/>
<ellipse cx="863.9" cy="1281.9" rx="5.2" ry="6.2" fill="#000"/>
<ellipse cx="997.7" cy="1281.9" rx="5.2" ry="6.2" fill="#000"/>
<g stroke="#000" fill="none" stroke-linecap="round">
<path d="M223.8 1124.6V1796" stroke-width="7.7"/>
<path d="M202.4 1776.4H1057.8" stroke-width="7.2"/>
<path d="M202.3 1776.2H222M211.5 1714.5H222M202.3 1652.7H222M211.5 1591.0H222M202.3 1529.2H222M211.5 1467.5H222M202.3 1405.8H222M211.5 1344.0H222M202.3 1282.3H222M211.5 1220.5H222M202.3 1158.8H222" stroke-width="7.4"/>
<path d="M224.3 1778V1796M239.2 1778V1787.5M254.1 1778V1787.5M269.0 1778V1787.5M283.8 1778V1787.5M298.7 1778V1787.5M313.6 1778V1787.5M328.5 1778V1796M343.4 1778V1787.5M358.3 1778V1787.5M373.1 1778V1787.5M388.0 1778V1787.5M402.9 1778V1787.5M417.8 1778V1787.5M432.7 1778V1796M447.6 1778V1787.5M462.4 1778V1787.5M477.3 1778V1787.5M492.2 1778V1787.5M507.1 1778V1787.5M522.0 1778V1787.5M536.9 1778V1796M551.7 1778V1787.5M566.6 1778V1787.5M581.5 1778V1787.5M596.4 1778V1787.5M611.3 1778V1787.5M626.2 1778V1787.5M641.1 1778V1796M655.9 1778V1787.5M670.8 1778V1787.5M685.7 1778V1787.5M700.6 1778V1787.5M715.5 1778V1787.5M730.4 1778V1787.5M745.2 1778V1796M760.1 1778V1787.5M775.0 1778V1787.5M789.9 1778V1787.5M804.8 1778V1787.5M819.7 1778V1787.5M834.5 1778V1787.5M849.4 1778V1796M864.3 1778V1787.5M879.2 1778V1787.5M894.1 1778V1787.5M909.0 1778V1787.5M923.8 1778V1787.5M938.7 1778V1787.5M953.6 1778V1796M968.5 1778V1787.5M983.4 1778V1787.5M998.3 1778V1787.5M1013.2 1778V1787.5M1028.0 1778V1787.5M1042.9 1778V1787.5M1057.8 1778V1796" stroke-width="6.4"/>
</g>
<text transform="translate(196.0 1792.0) scale(1.0447 1)" font-size="43.68" text-anchor="end" font-weight="bold">0</text>
<text transform="translate(196.0 1668.5) scale(1.0447 1)" font-size="43.68" text-anchor="end" font-weight="bold">20</text>
<text transform="translate(196.0 1545.0) scale(1.0447 1)" font-size="43.68" text-anchor="end" font-weight="bold">40</text>
<text transform="translate(196.0 1421.6) scale(1.0447 1)" font-size="43.68" text-anchor="end" font-weight="bold">60</text>
<text transform="translate(196.0 1298.1) scale(1.0447 1)" font-size="43.68" text-anchor="end" font-weight="bold">80</text>
<text transform="translate(196.0 1174.6) scale(1.0447 1)" font-size="43.68" text-anchor="end" font-weight="bold">100</text>
<text transform="translate(224.3 1840.8) scale(1.0447 1)" font-size="43.68" text-anchor="middle" font-weight="bold">0</text>
<text transform="translate(328.5 1840.8) scale(1.0447 1)" font-size="43.68" text-anchor="middle" font-weight="bold">7</text>
<text transform="translate(432.7 1840.8) scale(1.0447 1)" font-size="43.68" text-anchor="middle" font-weight="bold">14</text>
<text transform="translate(536.9 1840.8) scale(1.0447 1)" font-size="43.68" text-anchor="middle" font-weight="bold">21</text>
<text transform="translate(641.1 1840.8) scale(1.0447 1)" font-size="43.68" text-anchor="middle" font-weight="bold">28</text>
<text transform="translate(745.2 1840.8) scale(1.0447 1)" font-size="43.68" text-anchor="middle" font-weight="bold">35</text>
<text transform="translate(849.4 1840.8) scale(1.0447 1)" font-size="43.68" text-anchor="middle" font-weight="bold">42</text>
<text transform="translate(953.6 1840.8) scale(1.0447 1)" font-size="43.68" text-anchor="middle" font-weight="bold">49</text>
<text transform="translate(1057.8 1840.8) scale(1.0447 1)" font-size="43.68" text-anchor="middle" font-weight="bold">56</text>
<text transform="translate(641.6 1910.8) scale(1.0447 1)" font-size="43.68" text-anchor="middle" font-weight="bold">Days on Study</text>
<text transform="translate(91.4 1446.6) rotate(-90) scale(0.979 1.079)" font-size="43" font-weight="bold" text-anchor="middle">Percent Survival</text>
<g stroke="#000" fill="#000" stroke-width="2.5"><path d="M1083.8 1217.7H1125.0" fill="none"/><rect x="1093.6" y="1206.8" width="21.4" height="21.4" rx="1.8" stroke="none"/></g>
<text transform="translate(1147.6 1227.3) scale(0.962 1)" font-size="30.58">PBS</text>
<g stroke="#0000ff" fill="#0000ff" stroke-width="2.5"><path d="M1083.8 1278.5H1125.0" fill="none"/><path d="M1104.3 1268.9L1113.5 1287.7L1095.1 1287.7Z" stroke-width="2.4" stroke-linejoin="round"/></g>
<text transform="translate(1147.6 1288.1) scale(0.962 1)" font-size="30.58">Empty LNP</text>
<g stroke="#00c000" fill="#00c000" stroke-width="2.5"><path d="M1083.8 1339.6H1125.0" fill="none"/><path d="M1104.3 1348.8L1113.5 1330.0L1095.1 1330.0Z" stroke-width="2.4" stroke-linejoin="round"/></g>
<text transform="translate(1147.6 1349.2) scale(0.962 1)" font-size="30.58">Luc mRNA 10 µg</text>
<g stroke="#ff0000" fill="#ff0000" stroke-width="2.5"><path d="M1083.8 1400.8H1125.0" fill="none"/><path d="M1104.3 1391.2L1113.3 1400.6L1104.3 1410.0L1095.3 1400.6Z" stroke-width="2.4" stroke-linejoin="round"/></g>
<text transform="translate(1147.6 1410.4) scale(0.962 1)" font-size="30.58">HPV mRNA 10 µg</text>
<g stroke="#c000c0" fill="#c000c0" stroke-width="2.5"><path d="M1083.8 1462.2H1125.0" fill="none"/><circle cx="1104.3" cy="1462.0" r="10.5" stroke="none"/></g>
<text transform="translate(1147.6 1471.8) scale(0.962 1)" font-size="30.58">HPV mRNA 3 µg</text>
<g stroke="#ffb31a" fill="#ffb31a" stroke-width="2.5"><path d="M1083.8 1523.3H1125.0" fill="none"/><rect x="1095.5" y="1514.3" width="17.6" height="17.6" rx="1.8" stroke="none"/></g>
<text transform="translate(1147.6 1532.9) scale(0.962 1)" font-size="30.58">Luc mRNA 10 µg</text>
<g stroke="#ffff00" fill="#ffff00" stroke-width="2.5"><path d="M1086.1 1578.8H1127.3" fill="none"/><rect x="1097.7" y="1569.7" width="17.8" height="17.8" rx="1.8" stroke="none"/></g>
<text transform="translate(1149.9 1588.4) scale(0.962 1)" font-size="30.58">HPV mRNA 10 µg</text>
<g stroke="#ff6000" fill="#ff6000" stroke-width="2.5"><path d="M1088.2 1631.9H1129.4" fill="none"/><path d="M1108.7 1624.0L1116.2 1639.4L1101.2 1639.4Z" stroke-width="2.4" stroke-linejoin="round"/></g>
<text transform="translate(1152.0 1641.5) scale(0.962 1)" font-size="30.58">HPV mRNA 3 µg</text>
<path d="M1393 1329.7V1467.9M1393 1515.7V1653.9" stroke="#000" stroke-width="2" fill="none"/>
<text transform="translate(1418.2 1408.8) scale(0.962 1)" font-size="30.16">1 dose</text>
<text transform="translate(1417.2 1605.2) scale(0.962 1)" font-size="30.16">2 dose</text>
</g>
</svg>
</body></html>
